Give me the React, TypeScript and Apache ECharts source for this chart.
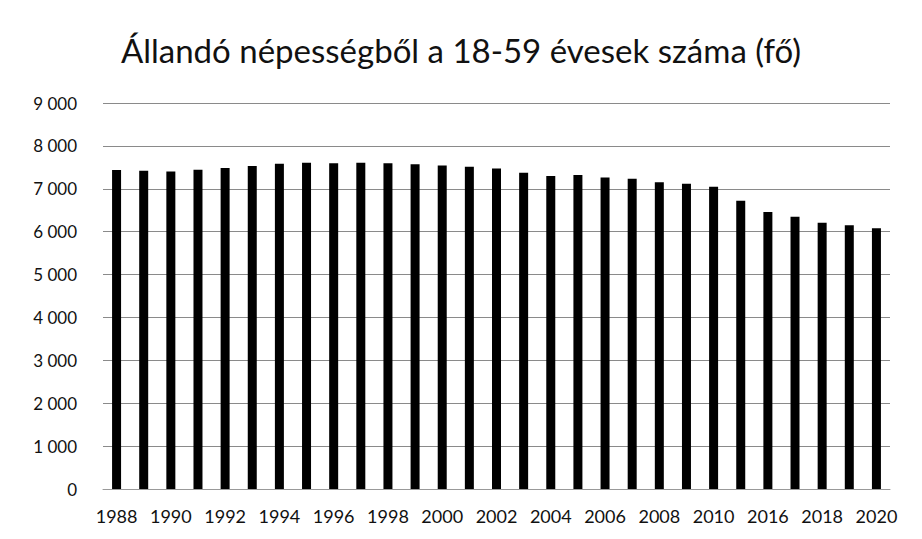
import React, { useEffect, useRef } from "react";
import * as echarts from "echarts";

const years = [
  "1988", "1989", "1990", "1991", "1992", "1993", "1994", "1995", "1996", "1997",
  "1998", "1999", "2000", "2001", "2002", "2003", "2004", "2005", "2006", "2007",
  "2008", "2009", "2010", "2011", "2016", "2017", "2018", "2019", "2020",
];
const values = [
  7440, 7420, 7400, 7445, 7485, 7530, 7585, 7605, 7595, 7605,
  7595, 7570, 7545, 7515, 7475, 7375, 7300, 7320, 7265, 7235,
  7150, 7120, 7050, 6720, 6460, 6350, 6210, 6150, 6080,
];
const yTicks = [0, 1000, 2000, 3000, 4000, 5000, 6000, 7000, 8000, 9000];
const title = "Állandó népességből a 18-59 évesek száma (fő)";

const FONT = "Lato, 'Open Sans', sans-serif";

export default function App() {
  const ref = useRef<HTMLDivElement>(null);
  useEffect(() => {
    if (!ref.current) return;
    const chart = echarts.init(ref.current, null, { renderer: "svg" });
    chart.setOption({
      animation: false,
      backgroundColor: "#ffffff",
      title: {
        text: title,
        left: "center",
        top: 28,
        textStyle: { fontFamily: FONT, fontSize: 33, fontWeight: "normal", color: "#111" },
      },
      grid: { left: 103, right: 32, top: 103, bottom: 50, containLabel: false },
      xAxis: {
        type: "category",
        data: years,
        axisLine: { show: true, lineStyle: { color: "#999", width: 1 } },
        axisTick: { show: false },
        axisLabel: {
          interval: 1,
          color: "#111",
          fontFamily: FONT,
          fontSize: 18,
          margin: 18,
        },
      },
      yAxis: {
        type: "value",
        min: yTicks[0],
        max: yTicks[yTicks.length - 1],
        interval: 1000,
        axisLine: { show: false },
        axisTick: { show: false },
        splitLine: { lineStyle: { color: "#8a8a8a", width: 1 } },
        axisLabel: {
          color: "#111",
          fontFamily: FONT,
          fontSize: 17,
          margin: 26,
          formatter: (v: number) =>
            String(v).replace(/\B(?=(\d{3})+(?!\d))/g, " "),
        },
      },
      series: [
        {
          type: "bar",
          data: values,
          barWidth: 9,
          itemStyle: { color: "#000" },
        },
      ],
    });
    return () => chart.dispose();
  }, []);
  return (
    <div
      ref={ref}
      style={{ position: "absolute", left: 0, top: 0, width: 922, height: 539 }}
    />
  );
}
